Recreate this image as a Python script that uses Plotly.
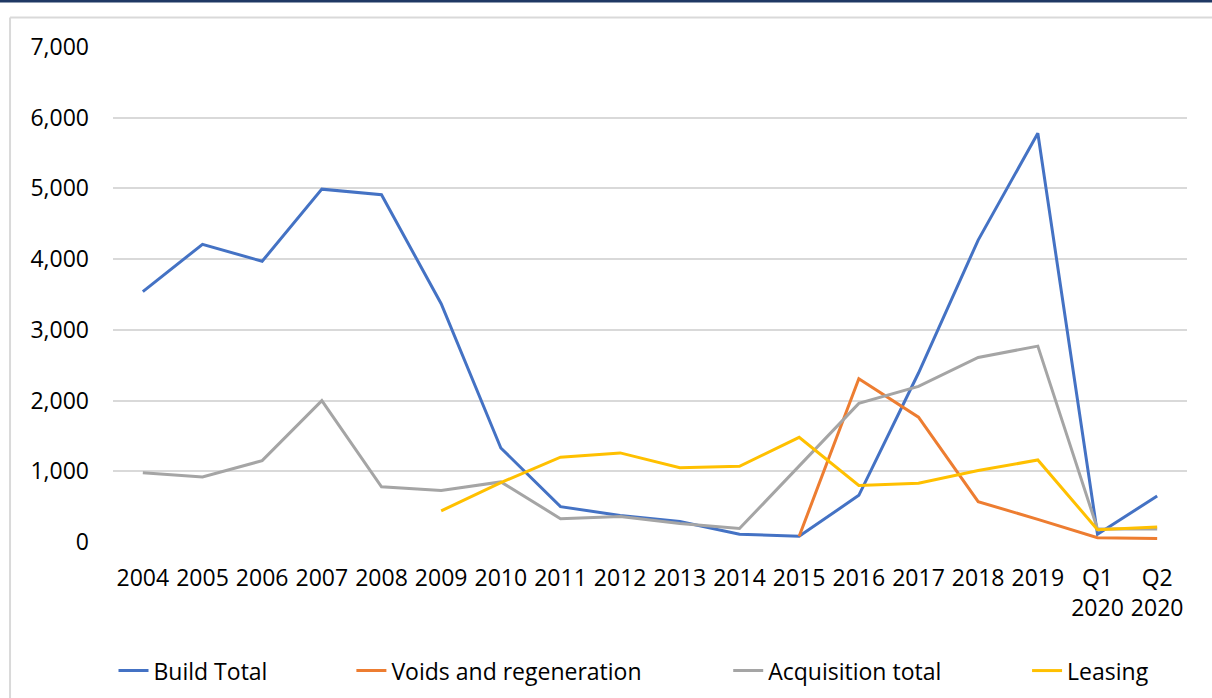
import plotly.graph_objects as go

categories = ["2004", "2005", "2006", "2007", "2008", "2009", "2010", "2011", "2012",
              "2013", "2014", "2015", "2016", "2017", "2018", "2019", "Q1<br>2020", "Q2<br>2020"]
build_total = [3540, 4210, 3970, 4990, 4910, 3370, 1330, 500, 375, 290, 110, 80,
               660, 2390, 4270, 5780, 110, 650]
voids_regen = [None] * 11 + [80, 2310, 1765, 570, 320, 60, 50]
acquisition = [980, 920, 1150, 2000, 780, 730, 850, 330, 360, 260, 190, 1080,
               1960, 2200, 2610, 2770, 185, 185]
leasing = [None] * 5 + [440, 840, 1200, 1260, 1050, 1070, 1480, 800, 830, 1010, 1160, 175, 212]

series = [
    ("Build Total", build_total, "#4472C4"),
    ("Voids and regeneration", voids_regen, "#ED7D31"),
    ("Acquisition total", acquisition, "#A5A5A5"),
    ("Leasing", leasing, "#FFC000"),
]

W, H = 1212, 698
L, R, T, B = 112.5, 1187, 47, 542.3


def px_x(p):
    return (p - L) / (R - L)


def px_y(p):
    return (B - p) / (B - T)


fig = go.Figure()
legend_names = ["legend", "legend2", "legend3", "legend4"]
for (name, vals, color), lg in zip(series, legend_names):
    fig.add_trace(go.Scatter(x=categories, y=vals, name=name, mode="lines",
                             line=dict(color=color, width=3), legend=lg,
                             connectgaps=False))

font = dict(family="Open Sans, Calibri, sans-serif", size=23, color="#000000")
legend_text_x = [154, 392, 769, 1068]
legend_cfg = {}
for lg, tx in zip(legend_names, legend_text_x):
    legend_cfg[lg] = dict(x=px_x(tx - 41), y=px_y(671), xanchor="left", yanchor="middle",
                          orientation="h", font=font, bgcolor="rgba(0,0,0,0)",
                          borderwidth=0)

fig.update_layout(
    width=W, height=H,
    margin=dict(l=L, r=W - R, t=T, b=H - B, autoexpand=False),
    paper_bgcolor="white", plot_bgcolor="white",
    font=font,
    showlegend=True,
    **legend_cfg,
    xaxis=dict(type="category", range=[-0.5, len(categories) - 0.5], showgrid=False,
               showline=False, zeroline=False, ticks="", tickfont=font,
               ticklabelstandoff=20, automargin=False),
    yaxis=dict(range=[0, 7000], dtick=1000, tickformat=",", showgrid=True,
               gridcolor="#D9D9D9", gridwidth=1.8, zeroline=False, showline=False,
               ticks="", tickfont=font, ticklabelstandoff=23, automargin=False),
    shapes=[
        dict(type="rect", xref="paper", yref="paper", x0=px_x(-5), x1=px_x(W + 5),
             y0=px_y(2.5), y1=px_y(-5), fillcolor="#1F3864", line=dict(width=0), layer="above"),
        dict(type="line", xref="paper", yref="paper", x0=px_x(9.5), x1=px_x(W + 5),
             y0=px_y(17.5), y1=px_y(17.5), line=dict(color="#D9D9D9", width=2)),
        dict(type="line", xref="paper", yref="paper", x0=px_x(9.5), x1=px_x(9.5),
             y0=px_y(17.5), y1=px_y(H + 5), line=dict(color="#D9D9D9", width=2)),
    ],
)

fig.write_html("out.html", config={"displayModeBar": False},
               post_script="document.body.style.margin='0';document.body.style.overflow='hidden';")
